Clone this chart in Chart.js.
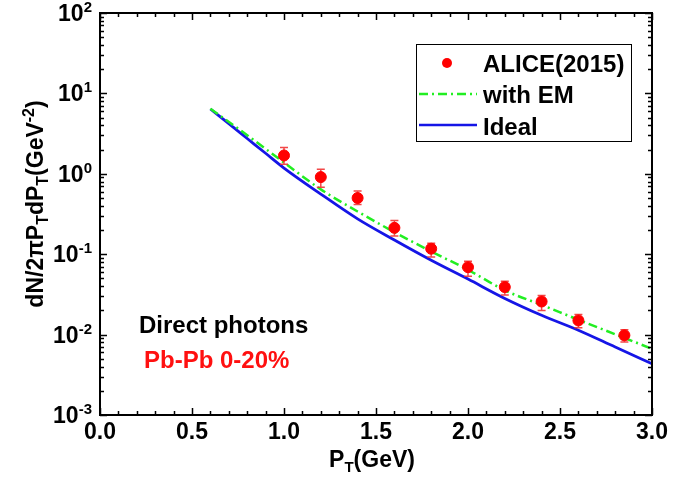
<!DOCTYPE html>
<html>
<head>
<meta charset="utf-8">
<script src="https://cdn.jsdelivr.net/npm/chart.js@4.4.1/dist/chart.umd.min.js"></script>
<style>
  html, body { margin: 0; padding: 0; background: #fff; }
  #wrap { width: 700px; height: 478px; }
</style>
</head>
<body>
<div id="wrap"><canvas id="photonChart" width="700" height="478"></canvas></div>
<script>
// ALICE data
const alicePt = [1.0, 1.2, 1.4, 1.6, 1.8, 2.0, 2.2, 2.4, 2.6, 2.85];
const aliceY  = [1.69, 0.91, 0.50, 0.213, 0.117, 0.069, 0.039, 0.0258, 0.0150, 0.0098];
const aliceHi = [2.12, 1.14, 0.61, 0.263, 0.137, 0.082, 0.046, 0.0306, 0.0178, 0.0115];
const aliceLo = [1.31, 0.68, 0.415, 0.169, 0.092, 0.053, 0.031, 0.0199, 0.0122, 0.0081];

// model curves
const emPt    = [0.6, 0.8, 1.0, 1.2, 1.4, 1.6, 1.8, 2.0, 2.2, 2.4, 2.6, 2.8, 3.0];
const emY     = [6.46, 3.02, 1.38, 0.64, 0.34, 0.188, 0.108, 0.064, 0.0355, 0.0234, 0.0153, 0.0101, 0.00665];
const idealPt = [0.6, 0.7, 0.8, 0.9, 1.0, 1.2, 1.4, 1.6, 1.8, 2.0, 2.2, 2.4, 2.6, 2.8, 3.0];
const idealY  = [6.4, 4.2, 2.75, 1.80, 1.18, 0.56, 0.275, 0.150, 0.084, 0.049, 0.0282, 0.0174, 0.01135, 0.0070, 0.00433];

// axis ticks
const xTicks = [0.0, 0.5, 1.0, 1.5, 2.0, 2.5, 3.0];
const yExps = [2, 1, 0, -1, -2, -3];

const FONT = '"Liberation Sans", Arial, sans-serif';
const pts = (xs, ys) => xs.map((x, i) => ({ x: x, y: ys[i] }));

// draws text made of pieces (normal / sub / sup) starting at x
function richText(ctx, pieces, x, y) {
  pieces.forEach(p => {
    ctx.font = 'bold ' + p.size + 'px ' + FONT;
    ctx.fillText(p.t, x, y + (p.dy || 0));
    x += ctx.measureText(p.t).width;
  });
  return x;
}
function richWidth(ctx, pieces) {
  let w = 0;
  pieces.forEach(p => {
    ctx.font = 'bold ' + p.size + 'px ' + FONT;
    w += ctx.measureText(p.t).width;
  });
  return w;
}

const decorPlugin = {
  id: 'decor',
  beforeDatasetDraw(chart, args) {
    if (args.index !== 0) return;
    const ctx = chart.ctx, xs = chart.scales.x, ys = chart.scales.y;
    ctx.save();
    ctx.strokeStyle = 'rgba(240,40,40,0.85)';
    ctx.lineWidth = 1.5;
    alicePt.forEach((x, i) => {
      const px = xs.getPixelForValue(x);
      const top = ys.getPixelForValue(aliceHi[i]);
      const bot = ys.getPixelForValue(aliceLo[i]);
      ctx.beginPath();
      ctx.moveTo(px, top); ctx.lineTo(px, bot);
      ctx.moveTo(px - 4, top); ctx.lineTo(px + 4, top);
      ctx.moveTo(px - 4, bot); ctx.lineTo(px + 4, bot);
      ctx.stroke();
    });
    ctx.restore();
  },
  afterDraw(chart) {
    const ctx = chart.ctx, xs = chart.scales.x, ys = chart.scales.y;
    const a = chart.chartArea;
    ctx.save();
    ctx.strokeStyle = '#000';
    ctx.fillStyle = '#000';

    // frame
    ctx.lineWidth = 2;
    ctx.strokeRect(a.left, a.top, a.right - a.left, a.bottom - a.top);

    // x ticks (inward, top & bottom)
    ctx.lineWidth = 1.5;
    ctx.beginPath();
    for (let k = 0; k <= 30; k++) {
      const v = k / 10;
      const px = Math.round(xs.getPixelForValue(v)) + 0.5;
      const len = (k % 5 === 0) ? 7 : 4;
      ctx.moveTo(px, a.bottom); ctx.lineTo(px, a.bottom - len);
      ctx.moveTo(px, a.top); ctx.lineTo(px, a.top + len);
    }
    // y ticks (inward, left & right)
    for (let e = -3; e <= 2; e++) {
      for (let m = 1; m <= 9; m++) {
        const v = m * Math.pow(10, e);
        if (v > 100) break;
        const py = Math.round(ys.getPixelForValue(v)) + 0.5;
        const len = (m === 1) ? 7 : 4;
        ctx.moveTo(a.left, py); ctx.lineTo(a.left + len, py);
        ctx.moveTo(a.right, py); ctx.lineTo(a.right - len, py);
      }
    }
    ctx.stroke();

    // x tick labels
    ctx.textAlign = 'center';
    ctx.textBaseline = 'alphabetic';
    ctx.font = 'bold 23px ' + FONT;
    xTicks.forEach(v => {
      ctx.fillText(v.toFixed(1), xs.getPixelForValue(v), a.bottom + 24);
    });

    // y tick labels 10^n
    ctx.textAlign = 'left';
    yExps.forEach(e => {
      const py = ys.getPixelForValue(Math.pow(10, e));
      const pieces = [{ t: '10', size: 23, dy: 8 }, { t: String(e), size: 15, dy: -1 }];
      const w = richWidth(ctx, pieces);
      richText(ctx, pieces, a.left - 8 - w, py);
    });

    // x title
    const xt = [{ t: 'P', size: 23 }, { t: 'T', size: 15, dy: 5 }, { t: '(GeV)', size: 23 }];
    const xw = richWidth(ctx, xt);
    richText(ctx, xt, 372 - xw / 2, 467);

    // y title (rotated)
    ctx.save();
    ctx.translate(43, 204);
    ctx.rotate(-Math.PI / 2);
    const yt = [
      { t: 'dN/2', size: 23 }, { t: '\u03c0', size: 23 }, { t: 'P', size: 23 }, { t: 'T', size: 16, dy: 5 },
      { t: 'dP', size: 23 }, { t: 'T', size: 16, dy: 5 }, { t: '(GeV', size: 23 },
      { t: '-2', size: 16, dy: -9 }, { t: ')', size: 23 }
    ];
    const yw = richWidth(ctx, yt);
    richText(ctx, yt, -yw / 2, 0);
    ctx.restore();

    // legend
    ctx.lineWidth = 1;
    ctx.strokeStyle = '#000';
    ctx.strokeRect(416.5, 44.5, 215, 97);
    ctx.font = 'bold 24px ' + FONT;
    ctx.fillStyle = '#000';
    ctx.fillText('ALICE(2015)', 483, 72);
    ctx.fillText('with EM', 483, 103);
    ctx.fillText('Ideal', 483, 135);
    ctx.fillStyle = '#ff0000';
    ctx.beginPath();
    ctx.arc(447, 63, 5, 0, Math.PI * 2);
    ctx.fill();
    ctx.lineWidth = 2.5;
    ctx.strokeStyle = '#22ee22';
    ctx.setLineDash([9, 4, 2, 4]);
    ctx.beginPath(); ctx.moveTo(419, 94); ctx.lineTo(477, 94); ctx.stroke();
    ctx.setLineDash([]);
    ctx.strokeStyle = '#1515e6';
    ctx.beginPath(); ctx.moveTo(419, 125); ctx.lineTo(477, 125); ctx.stroke();

    // annotations
    ctx.fillStyle = '#000';
    ctx.fillText('Direct photons', 139, 333);
    ctx.fillStyle = '#ff1010';
    ctx.fillText('Pb-Pb 0-20%', 144, 368);
    ctx.restore();
  }
};

const ctx = document.getElementById('photonChart').getContext('2d');
new Chart(ctx, {
  type: 'scatter',
  data: {
    datasets: [
      {
        label: 'ALICE(2015)',
        data: pts(alicePt, aliceY),
        backgroundColor: '#ff0000',
        borderColor: '#ff0000',
        pointRadius: 5.5,
        showLine: false
      },
      {
        label: 'with EM',
        data: pts(emPt, emY),
        showLine: true,
        borderColor: '#22ee22',
        borderWidth: 2.5,
        borderDash: [9, 4, 2, 4],
        pointRadius: 0,
        cubicInterpolationMode: 'monotone'
      },
      {
        label: 'Ideal',
        data: pts(idealPt, idealY),
        showLine: true,
        borderColor: '#1515e6',
        borderWidth: 2.8,
        pointRadius: 0,
        cubicInterpolationMode: 'monotone'
      }
    ]
  },
  options: {
    responsive: false,
    animation: false,
    events: [],
    layout: { padding: { left: 100, right: 48, top: 13, bottom: 63 } },
    plugins: { legend: { display: false }, tooltip: { enabled: false } },
    scales: {
      x: { type: 'linear', min: 0, max: 3, display: false },
      y: { type: 'logarithmic', min: 0.001, max: 100, display: false }
    }
  },
  plugins: [decorPlugin]
});
</script>
</body>
</html>
